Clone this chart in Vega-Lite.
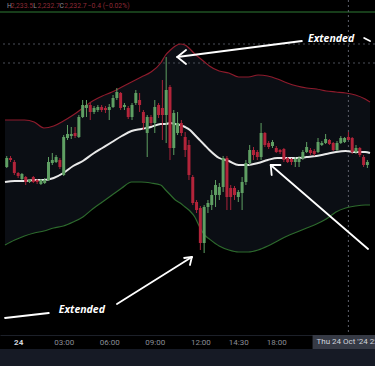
{
  "$schema": "https://vega.github.io/schema/vega-lite/v6.json",
  "width": 375,
  "height": 349,
  "autosize": {"type": "none"},
  "padding": {"left": 0, "right": 0, "top": 0, "bottom": 17},
  "background": "#161a25",
  "config": {
    "view": {"fill": "#000000", "stroke": null},
    "font": "Roboto",
    "axisX": {"orient": "bottom", "offset": -14, "ticks": false, "grid": false, "domainColor": "#1c2029", "labelPadding": 3, "labelFontSize": 8, "labelFont": "Roboto", "labelFlush": false, "labelOverlap": false,
      "labelColor": {"condition": {"test": "datum.value == 0", "value": "#d1d4dc"}, "value": "#8b8e97"},
      "labelFontWeight": {"condition": {"test": "datum.value == 0", "value": "bold"}, "value": "normal"}}
  },
  "datasets": {
    "band": [
      {"i": -3.46, "up": 2234.7, "mid": 2228.5, "lo": 2222.2},
      {"i": -0.9, "up": 2234.7, "mid": 2228.6, "lo": 2222.7},
      {"i": 1.67, "up": 2234.7, "mid": 2228.6, "lo": 2223.1},
      {"i": 4.23, "up": 2234.5, "mid": 2228.7, "lo": 2223.4},
      {"i": 6.79, "up": 2233.9, "mid": 2228.7, "lo": 2223.6},
      {"i": 9.36, "up": 2234.1, "mid": 2228.9, "lo": 2223.9},
      {"i": 11.92, "up": 2234.6, "mid": 2229.4, "lo": 2224.1},
      {"i": 14.49, "up": 2235.2, "mid": 2230.1, "lo": 2224.5},
      {"i": 17.05, "up": 2235.9, "mid": 2230.6, "lo": 2225.0},
      {"i": 19.62, "up": 2236.6, "mid": 2231.3, "lo": 2225.8},
      {"i": 22.18, "up": 2237.1, "mid": 2231.9, "lo": 2226.5},
      {"i": 24.74, "up": 2237.5, "mid": 2232.5, "lo": 2227.2},
      {"i": 27.31, "up": 2238.0, "mid": 2233.1, "lo": 2227.9},
      {"i": 29.87, "up": 2238.5, "mid": 2233.6, "lo": 2228.5},
      {"i": 32.44, "up": 2239.0, "mid": 2233.8, "lo": 2228.5},
      {"i": 35, "up": 2239.5, "mid": 2234.0, "lo": 2228.4},
      {"i": 37.56, "up": 2240.4, "mid": 2234.3, "lo": 2228.2},
      {"i": 38.85, "up": 2241.2, "mid": 2234.3, "lo": 2227.7},
      {"i": 40.13, "up": 2241.7, "mid": 2234.4, "lo": 2227.2},
      {"i": 41.41, "up": 2242.1, "mid": 2234.3, "lo": 2226.7},
      {"i": 42.69, "up": 2242.3, "mid": 2234.2, "lo": 2226.4},
      {"i": 43.97, "up": 2242.2, "mid": 2234.0, "lo": 2226.0},
      {"i": 45.26, "up": 2241.8, "mid": 2233.7, "lo": 2225.6},
      {"i": 46.54, "up": 2241.3, "mid": 2233.2, "lo": 2225.0},
      {"i": 47.82, "up": 2240.9, "mid": 2232.7, "lo": 2224.0},
      {"i": 49.1, "up": 2240.5, "mid": 2232.2, "lo": 2223.2},
      {"i": 50.38, "up": 2240.1, "mid": 2231.7, "lo": 2222.8},
      {"i": 52.95, "up": 2239.6, "mid": 2230.9, "lo": 2222.1},
      {"i": 55.51, "up": 2239.4, "mid": 2230.6, "lo": 2221.7},
      {"i": 58.08, "up": 2239.0, "mid": 2230.2, "lo": 2221.5},
      {"i": 60.64, "up": 2239.0, "mid": 2230.2, "lo": 2221.5},
      {"i": 63.21, "up": 2239.2, "mid": 2230.4, "lo": 2221.7},
      {"i": 65.77, "up": 2239.1, "mid": 2230.7, "lo": 2222.1},
      {"i": 68.33, "up": 2238.8, "mid": 2230.9, "lo": 2222.6},
      {"i": 70.9, "up": 2238.4, "mid": 2230.9, "lo": 2223.1},
      {"i": 73.46, "up": 2238.1, "mid": 2230.9, "lo": 2223.5},
      {"i": 76.03, "up": 2237.9, "mid": 2231.0, "lo": 2223.9},
      {"i": 78.59, "up": 2237.8, "mid": 2231.1, "lo": 2224.3},
      {"i": 81.15, "up": 2237.6, "mid": 2231.3, "lo": 2224.8},
      {"i": 83.72, "up": 2237.5, "mid": 2231.5, "lo": 2225.5},
      {"i": 86.28, "up": 2237.4, "mid": 2231.6, "lo": 2225.9},
      {"i": 88.85, "up": 2237.2, "mid": 2231.5, "lo": 2226.1},
      {"i": 91.41, "up": 2236.8, "mid": 2231.5, "lo": 2226.2},
      {"i": 92.69, "up": 2236.5, "mid": 2231.4, "lo": 2226.2}
    ],
    "candles": [
      {"i": -3, "o": 2230.0, "h": 2231.1, "l": 2229.9, "c": 2230.9},
      {"i": -2, "o": 2230.9, "h": 2231.1, "l": 2230.5, "c": 2230.7},
      {"i": -1, "o": 2230.5, "h": 2230.7, "l": 2229.2, "c": 2229.4},
      {"i": 0, "o": 2229.4, "h": 2229.5, "l": 2228.9, "c": 2229.1},
      {"i": 1, "o": 2228.8, "h": 2229.4, "l": 2228.7, "c": 2229.3},
      {"i": 2, "o": 2229.0, "h": 2229.1, "l": 2228.2, "c": 2228.5},
      {"i": 3, "o": 2228.5, "h": 2228.8, "l": 2228.4, "c": 2228.7},
      {"i": 4, "o": 2229.0, "h": 2229.1, "l": 2228.4, "c": 2228.5},
      {"i": 5, "o": 2228.7, "h": 2228.8, "l": 2228.3, "c": 2228.5},
      {"i": 6, "o": 2228.3, "h": 2228.8, "l": 2228.2, "c": 2228.7},
      {"i": 7, "o": 2228.4, "h": 2228.9, "l": 2228.3, "c": 2228.7},
      {"i": 8, "o": 2228.7, "h": 2231.0, "l": 2228.6, "c": 2230.5},
      {"i": 9, "o": 2230.4, "h": 2231.4, "l": 2230.2, "c": 2230.7},
      {"i": 10, "o": 2230.5, "h": 2231.2, "l": 2230.4, "c": 2231.0},
      {"i": 11, "o": 2230.7, "h": 2230.9, "l": 2229.8, "c": 2230.0},
      {"i": 12, "o": 2229.2, "h": 2233.2, "l": 2229.1, "c": 2233.0},
      {"i": 13, "o": 2232.9, "h": 2234.2, "l": 2232.7, "c": 2233.3},
      {"i": 14, "o": 2233.1, "h": 2234.0, "l": 2232.8, "c": 2233.3},
      {"i": 15, "o": 2233.4, "h": 2234.0, "l": 2232.9, "c": 2233.1},
      {"i": 16, "o": 2233.0, "h": 2235.2, "l": 2232.9, "c": 2235.0},
      {"i": 17, "o": 2235.0, "h": 2236.7, "l": 2234.9, "c": 2236.2},
      {"i": 18, "o": 2235.9, "h": 2236.7, "l": 2235.0, "c": 2236.2},
      {"i": 19, "o": 2236.2, "h": 2236.4, "l": 2234.7, "c": 2235.5},
      {"i": 20, "o": 2235.5, "h": 2236.1, "l": 2235.3, "c": 2235.9},
      {"i": 21, "o": 2235.7, "h": 2236.2, "l": 2235.5, "c": 2236.0},
      {"i": 22, "o": 2236.0, "h": 2236.2, "l": 2235.5, "c": 2235.7},
      {"i": 23, "o": 2235.9, "h": 2236.1, "l": 2235.4, "c": 2235.7},
      {"i": 24, "o": 2235.7, "h": 2236.3, "l": 2234.7, "c": 2236.0},
      {"i": 25, "o": 2236.0, "h": 2237.2, "l": 2235.9, "c": 2236.9},
      {"i": 26, "o": 2236.9, "h": 2237.9, "l": 2236.7, "c": 2237.5},
      {"i": 27, "o": 2237.4, "h": 2237.5, "l": 2235.7, "c": 2235.9},
      {"i": 28, "o": 2236.0, "h": 2236.4, "l": 2235.7, "c": 2236.2},
      {"i": 29, "o": 2235.9, "h": 2236.1, "l": 2234.8, "c": 2235.0},
      {"i": 30, "o": 2235.0, "h": 2236.4, "l": 2234.7, "c": 2236.2},
      {"i": 31, "o": 2236.4, "h": 2237.7, "l": 2236.2, "c": 2237.4},
      {"i": 32, "o": 2236.7, "h": 2237.4, "l": 2235.5, "c": 2236.2},
      {"i": 33, "o": 2235.5, "h": 2235.7, "l": 2233.7, "c": 2234.4},
      {"i": 34, "o": 2233.4, "h": 2235.2, "l": 2231.0, "c": 2235.0},
      {"i": 35, "o": 2235.0, "h": 2235.2, "l": 2234.1, "c": 2234.4},
      {"i": 36, "o": 2234.4, "h": 2236.7, "l": 2233.4, "c": 2236.0},
      {"i": 37, "o": 2236.2, "h": 2236.4, "l": 2234.9, "c": 2235.2},
      {"i": 38, "o": 2235.9, "h": 2238.7, "l": 2232.7, "c": 2235.2},
      {"i": 39, "o": 2235.2, "h": 2241.0, "l": 2232.4, "c": 2237.7},
      {"i": 40, "o": 2238.0, "h": 2238.2, "l": 2230.7, "c": 2231.9},
      {"i": 41, "o": 2231.9, "h": 2235.7, "l": 2231.2, "c": 2235.4},
      {"i": 42, "o": 2233.4, "h": 2235.5, "l": 2233.2, "c": 2234.4},
      {"i": 43, "o": 2234.4, "h": 2234.7, "l": 2233.1, "c": 2233.4},
      {"i": 44, "o": 2233.0, "h": 2233.5, "l": 2231.0, "c": 2231.7},
      {"i": 45, "o": 2232.2, "h": 2232.7, "l": 2228.7, "c": 2229.2},
      {"i": 46, "o": 2229.0, "h": 2229.2, "l": 2226.2, "c": 2226.4},
      {"i": 47, "o": 2226.5, "h": 2226.7, "l": 2225.4, "c": 2225.7},
      {"i": 48, "o": 2225.9, "h": 2226.1, "l": 2221.7, "c": 2222.4},
      {"i": 49, "o": 2222.4, "h": 2226.2, "l": 2221.4, "c": 2226.0},
      {"i": 50, "o": 2226.0, "h": 2226.7, "l": 2225.4, "c": 2226.4},
      {"i": 51, "o": 2226.2, "h": 2227.7, "l": 2225.7, "c": 2227.2},
      {"i": 52, "o": 2227.2, "h": 2228.7, "l": 2226.0, "c": 2228.2},
      {"i": 53, "o": 2227.2, "h": 2228.4, "l": 2226.7, "c": 2228.0},
      {"i": 54, "o": 2228.0, "h": 2231.1, "l": 2227.5, "c": 2230.9},
      {"i": 55, "o": 2230.9, "h": 2231.1, "l": 2225.7, "c": 2227.0},
      {"i": 56, "o": 2227.9, "h": 2228.2, "l": 2225.7, "c": 2227.0},
      {"i": 57, "o": 2227.9, "h": 2228.1, "l": 2226.7, "c": 2227.2},
      {"i": 58, "o": 2227.0, "h": 2227.7, "l": 2226.5, "c": 2227.5},
      {"i": 59, "o": 2227.4, "h": 2229.0, "l": 2225.7, "c": 2228.5},
      {"i": 60, "o": 2228.5, "h": 2230.7, "l": 2228.2, "c": 2230.4},
      {"i": 61, "o": 2230.4, "h": 2232.2, "l": 2230.2, "c": 2231.7},
      {"i": 62, "o": 2231.7, "h": 2232.0, "l": 2230.7, "c": 2231.2},
      {"i": 63, "o": 2231.5, "h": 2231.7, "l": 2230.7, "c": 2231.0},
      {"i": 64, "o": 2231.0, "h": 2234.4, "l": 2230.7, "c": 2233.4},
      {"i": 65, "o": 2233.4, "h": 2233.5, "l": 2232.0, "c": 2232.2},
      {"i": 66, "o": 2232.4, "h": 2232.6, "l": 2231.8, "c": 2232.0},
      {"i": 67, "o": 2232.1, "h": 2232.7, "l": 2231.9, "c": 2232.5},
      {"i": 68, "o": 2231.9, "h": 2232.1, "l": 2231.4, "c": 2231.5},
      {"i": 69, "o": 2231.7, "h": 2231.8, "l": 2231.3, "c": 2231.5},
      {"i": 70, "o": 2231.8, "h": 2231.9, "l": 2230.5, "c": 2230.7},
      {"i": 71, "o": 2230.9, "h": 2231.0, "l": 2230.4, "c": 2230.5},
      {"i": 72, "o": 2230.8, "h": 2230.9, "l": 2230.2, "c": 2230.5},
      {"i": 73, "o": 2230.5, "h": 2231.0, "l": 2230.0, "c": 2230.8},
      {"i": 74, "o": 2230.5, "h": 2231.1, "l": 2230.0, "c": 2230.9},
      {"i": 75, "o": 2230.9, "h": 2231.7, "l": 2230.7, "c": 2231.5},
      {"i": 76, "o": 2231.5, "h": 2232.5, "l": 2231.4, "c": 2232.0},
      {"i": 77, "o": 2231.7, "h": 2231.9, "l": 2231.2, "c": 2231.4},
      {"i": 78, "o": 2231.6, "h": 2231.8, "l": 2231.1, "c": 2231.3},
      {"i": 79, "o": 2231.5, "h": 2232.9, "l": 2231.4, "c": 2232.5},
      {"i": 80, "o": 2232.2, "h": 2232.6, "l": 2232.1, "c": 2232.4},
      {"i": 81, "o": 2232.4, "h": 2233.3, "l": 2232.3, "c": 2232.8},
      {"i": 82, "o": 2232.7, "h": 2232.8, "l": 2232.2, "c": 2232.3},
      {"i": 83, "o": 2232.4, "h": 2232.5, "l": 2231.6, "c": 2231.7},
      {"i": 84, "o": 2231.7, "h": 2232.6, "l": 2231.6, "c": 2232.4},
      {"i": 85, "o": 2232.4, "h": 2233.1, "l": 2232.3, "c": 2232.9},
      {"i": 86, "o": 2232.5, "h": 2233.0, "l": 2232.4, "c": 2232.9},
      {"i": 87, "o": 2233.0, "h": 2233.5, "l": 2232.7, "c": 2232.7},
      {"i": 88, "o": 2232.9, "h": 2233.0, "l": 2231.3, "c": 2231.5},
      {"i": 89, "o": 2231.5, "h": 2232.2, "l": 2231.3, "c": 2231.9},
      {"i": 90, "o": 2231.9, "h": 2232.0, "l": 2231.0, "c": 2231.2},
      {"i": 91, "o": 2231.0, "h": 2231.2, "l": 2230.0, "c": 2230.2},
      {"i": 92, "o": 2230.2, "h": 2230.7, "l": 2229.9, "c": 2230.5}
    ],
    "segs": [
      {"i": 41.92, "p": 2241.0, "i2": 74.74, "p2": 2242.6},
      {"i": 41.92, "p": 2241.0, "i2": 44.23, "p2": 2241.7},
      {"i": 41.92, "p": 2241.0, "i2": 44.23, "p2": 2240.3},
      {"i": 91.15, "p": 2242.9, "i2": 92.69, "p2": 2242.6},
      {"i": -3.46, "p": 2214.9, "i2": 8.08, "p2": 2215.4},
      {"i": 26.03, "p": 2216.3, "i2": 45.77, "p2": 2221.0},
      {"i": 45.77, "p": 2221.0, "i2": 43.72, "p2": 2220.9},
      {"i": 45.77, "p": 2221.0, "i2": 45.26, "p2": 2220.2},
      {"i": 66.54, "p": 2230.2, "i2": 92.18, "p2": 2221.8},
      {"i": 66.54, "p": 2230.2, "i2": 69.1, "p2": 2230.2},
      {"i": 66.54, "p": 2230.2, "i2": 66.79, "p2": 2229.2}
    ],
    "notes": [
      {"i": 82.44, "p": 2242.8, "t": "Extended"},
      {"i": 16.79, "p": 2215.7, "t": "Extended"}
    ],
    "dotted": [{"p": 2242.3}, {"p": 2240.4}],
    "topline": [{"p": 2245.5}],
    "cross": [{"i": 87}],
    "legend": [
      {"i": -2.95, "p": 2246.1, "t": "H", "k": "lab"},
      {"i": -1.92, "p": 2246.1, "t": "2,233.5", "k": "val"},
      {"i": 3.97, "p": 2246.1, "t": "L", "k": "lab"},
      {"i": 5.13, "p": 2246.1, "t": "2,232.7", "k": "val"},
      {"i": 10.9, "p": 2246.1, "t": "C", "k": "lab"},
      {"i": 12.18, "p": 2246.1, "t": "2,232.7", "k": "val"},
      {"i": 18.33, "p": 2246.1, "t": "−0.4 (−0.02%)", "k": "val"}
    ],
    "box": [{"i": 77.56, "i2": 96.54, "p": 2213.2, "p2": 2211.8}],
    "boxtext": [{"i": 78.59, "p": 2212.5, "t": "Thu 24 Oct '24  22:45"}]
  },
  "layer": [
    {
      "data": {"name": "band"},
      "mark": {"type": "area", "color": "#0b0e14", "interpolate": "monotone"},
      "encoding": {
        "x": {"field": "i", "type": "quantitative", "title": null, "scale": {"domain": [-3.46, 92.69]},
          "axis": {"values": [0, 12, 24, 36, 48, 58, 68], "labelExpr": "datum.value==0?'24':datum.value==12?'03:00':datum.value==24?'06:00':datum.value==36?'09:00':datum.value==48?'12:00':datum.value==58?'14:30':'18:00'"}},
        "y": {"field": "up", "type": "quantitative", "scale": {"domain": [2211.8, 2246.7]}, "axis": null},
        "y2": {"field": "lo"}
      }
    },
    {
      "data": {"name": "topline"},
      "mark": {"type": "rule", "color": "#2f7a35", "strokeWidth": 1},
      "encoding": {"y": {"field": "p", "type": "quantitative", "scale": {"domain": [2211.8, 2246.7]}, "axis": null}}
    },
    {
      "data": {"name": "dotted"},
      "mark": {"type": "rule", "color": "#4a4e58", "strokeWidth": 1, "strokeDash": [2, 3]},
      "encoding": {"y": {"field": "p", "type": "quantitative", "scale": {"domain": [2211.8, 2246.7]}, "axis": null}}
    },
    {
      "data": {"name": "cross"},
      "mark": {"type": "rule", "color": "#5d606b", "strokeWidth": 1, "strokeDash": [2, 3]},
      "encoding": {"x": {"field": "i", "type": "quantitative", "title": null, "scale": {"domain": [-3.46, 92.69]},
          "axis": {"values": [0, 12, 24, 36, 48, 58, 68], "labelExpr": "datum.value==0?'24':datum.value==12?'03:00':datum.value==24?'06:00':datum.value==36?'09:00':datum.value==48?'12:00':datum.value==58?'14:30':'18:00'"}}}
    },
    {
      "data": {"name": "band"},
      "mark": {"type": "line", "color": "#8e1b2c", "strokeWidth": 1.2, "interpolate": "monotone"},
      "encoding": {
        "x": {"field": "i", "type": "quantitative", "title": null, "scale": {"domain": [-3.46, 92.69]},
          "axis": {"values": [0, 12, 24, 36, 48, 58, 68], "labelExpr": "datum.value==0?'24':datum.value==12?'03:00':datum.value==24?'06:00':datum.value==36?'09:00':datum.value==48?'12:00':datum.value==58?'14:30':'18:00'"}},
        "y": {"field": "up", "type": "quantitative", "scale": {"domain": [2211.8, 2246.7]}, "axis": null}
      }
    },
    {
      "data": {"name": "band"},
      "mark": {"type": "line", "color": "#2d6a2d", "strokeWidth": 1.2, "interpolate": "monotone"},
      "encoding": {
        "x": {"field": "i", "type": "quantitative", "title": null, "scale": {"domain": [-3.46, 92.69]},
          "axis": {"values": [0, 12, 24, 36, 48, 58, 68], "labelExpr": "datum.value==0?'24':datum.value==12?'03:00':datum.value==24?'06:00':datum.value==36?'09:00':datum.value==48?'12:00':datum.value==58?'14:30':'18:00'"}},
        "y": {"field": "lo", "type": "quantitative", "scale": {"domain": [2211.8, 2246.7]}, "axis": null}
      }
    },
    {
      "data": {"name": "band"},
      "mark": {"type": "line", "color": "#e8e8e8", "strokeWidth": 2, "interpolate": "monotone"},
      "encoding": {
        "x": {"field": "i", "type": "quantitative", "title": null, "scale": {"domain": [-3.46, 92.69]},
          "axis": {"values": [0, 12, 24, 36, 48, 58, 68], "labelExpr": "datum.value==0?'24':datum.value==12?'03:00':datum.value==24?'06:00':datum.value==36?'09:00':datum.value==48?'12:00':datum.value==58?'14:30':'18:00'"}},
        "y": {"field": "mid", "type": "quantitative", "scale": {"domain": [2211.8, 2246.7]}, "axis": null}
      }
    },
    {
      "data": {"name": "candles"},
      "mark": {"type": "rule", "strokeWidth": 1},
      "encoding": {
        "x": {"field": "i", "type": "quantitative", "title": null, "scale": {"domain": [-3.46, 92.69]},
          "axis": {"values": [0, 12, 24, 36, 48, 58, 68], "labelExpr": "datum.value==0?'24':datum.value==12?'03:00':datum.value==24?'06:00':datum.value==36?'09:00':datum.value==48?'12:00':datum.value==58?'14:30':'18:00'"}},
        "y": {"field": "l", "type": "quantitative", "scale": {"domain": [2211.8, 2246.7]}, "axis": null},
        "y2": {"field": "h"},
        "color": {"condition": {"test": "datum.c >= datum.o", "value": "#5f9f63"}, "value": "#a8233a"}
      }
    },
    {
      "data": {"name": "candles"},
      "mark": {"type": "bar", "width": 3},
      "encoding": {
        "x": {"field": "i", "type": "quantitative", "title": null, "scale": {"domain": [-3.46, 92.69]},
          "axis": {"values": [0, 12, 24, 36, 48, 58, 68], "labelExpr": "datum.value==0?'24':datum.value==12?'03:00':datum.value==24?'06:00':datum.value==36?'09:00':datum.value==48?'12:00':datum.value==58?'14:30':'18:00'"}},
        "y": {"field": "o", "type": "quantitative", "scale": {"domain": [2211.8, 2246.7]}, "axis": null},
        "y2": {"field": "c"},
        "color": {"condition": {"test": "datum.c >= datum.o", "value": "#5f9f63"}, "value": "#b3243a"}
      }
    },
    {
      "data": {"name": "segs"},
      "mark": {"type": "rule", "color": "#ffffff", "strokeWidth": 1.8, "strokeCap": "round"},
      "encoding": {
        "x": {"field": "i", "type": "quantitative", "title": null, "scale": {"domain": [-3.46, 92.69]},
          "axis": {"values": [0, 12, 24, 36, 48, 58, 68], "labelExpr": "datum.value==0?'24':datum.value==12?'03:00':datum.value==24?'06:00':datum.value==36?'09:00':datum.value==48?'12:00':datum.value==58?'14:30':'18:00'"}},
        "x2": {"field": "i2"},
        "y": {"field": "p", "type": "quantitative", "scale": {"domain": [2211.8, 2246.7]}, "axis": null},
        "y2": {"field": "p2"}
      }
    },
    {
      "data": {"name": "notes"},
      "mark": {"type": "text", "color": "#ffffff", "font": "Open Sans", "fontStyle": "italic", "fontWeight": "bold", "fontSize": 10.5, "align": "center", "baseline": "middle"},
      "encoding": {
        "x": {"field": "i", "type": "quantitative", "title": null, "scale": {"domain": [-3.46, 92.69]},
          "axis": {"values": [0, 12, 24, 36, 48, 58, 68], "labelExpr": "datum.value==0?'24':datum.value==12?'03:00':datum.value==24?'06:00':datum.value==36?'09:00':datum.value==48?'12:00':datum.value==58?'14:30':'18:00'"}},
        "y": {"field": "p", "type": "quantitative", "scale": {"domain": [2211.8, 2246.7]}, "axis": null},
        "text": {"field": "t"}
      }
    },
    {
      "data": {"name": "legend"},
      "mark": {"type": "text", "font": "Roboto", "fontSize": 6.8, "align": "left", "baseline": "middle"},
      "encoding": {
        "x": {"field": "i", "type": "quantitative", "title": null, "scale": {"domain": [-3.46, 92.69]},
          "axis": {"values": [0, 12, 24, 36, 48, 58, 68], "labelExpr": "datum.value==0?'24':datum.value==12?'03:00':datum.value==24?'06:00':datum.value==36?'09:00':datum.value==48?'12:00':datum.value==58?'14:30':'18:00'"}},
        "y": {"field": "p", "type": "quantitative", "scale": {"domain": [2211.8, 2246.7]}, "axis": null},
        "text": {"field": "t"},
        "color": {"condition": {"test": "datum.k == 'lab'", "value": "#8b8e97"}, "value": "#8e2a36"}
      }
    },
    {
      "data": {"name": "box"},
      "mark": {"type": "rect", "color": "#363a45"},
      "encoding": {
        "x": {"field": "i", "type": "quantitative", "title": null, "scale": {"domain": [-3.46, 92.69]},
          "axis": {"values": [0, 12, 24, 36, 48, 58, 68], "labelExpr": "datum.value==0?'24':datum.value==12?'03:00':datum.value==24?'06:00':datum.value==36?'09:00':datum.value==48?'12:00':datum.value==58?'14:30':'18:00'"}},
        "x2": {"field": "i2"},
        "y": {"field": "p", "type": "quantitative", "scale": {"domain": [2211.8, 2246.7]}, "axis": null},
        "y2": {"field": "p2"}
      }
    },
    {
      "data": {"name": "boxtext"},
      "mark": {"type": "text", "color": "#d1d4dc", "font": "Roboto", "fontSize": 8, "align": "left", "baseline": "middle"},
      "encoding": {
        "x": {"field": "i", "type": "quantitative", "title": null, "scale": {"domain": [-3.46, 92.69]},
          "axis": {"values": [0, 12, 24, 36, 48, 58, 68], "labelExpr": "datum.value==0?'24':datum.value==12?'03:00':datum.value==24?'06:00':datum.value==36?'09:00':datum.value==48?'12:00':datum.value==58?'14:30':'18:00'"}},
        "y": {"field": "p", "type": "quantitative", "scale": {"domain": [2211.8, 2246.7]}, "axis": null},
        "text": {"field": "t"}
      }
    }
  ]
}
